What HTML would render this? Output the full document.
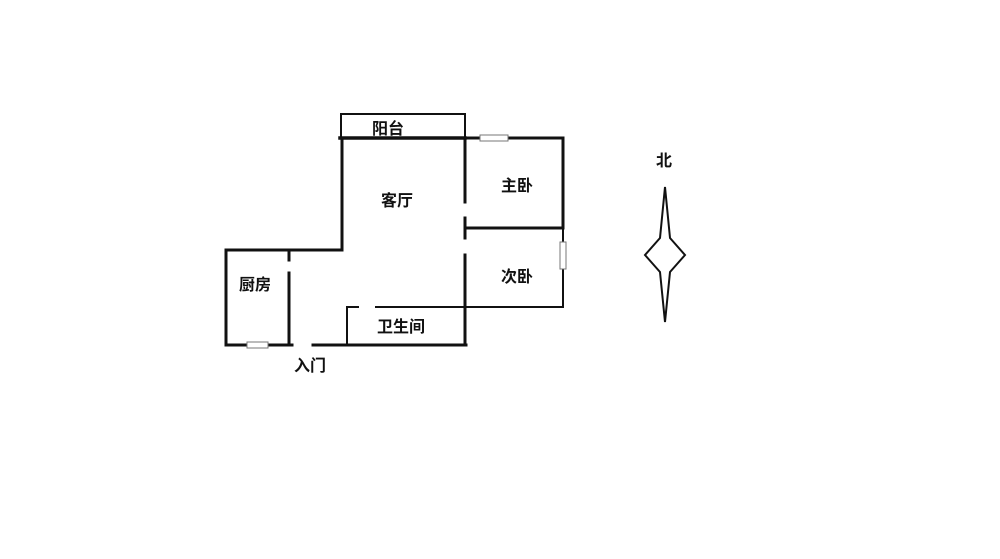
<!DOCTYPE html>
<html><head><meta charset="utf-8"><style>
html,body{margin:0;padding:0;background:#fff;}
svg text{font-family:"Liberation Sans","Noto Sans CJK SC",sans-serif;font-size:16px;font-weight:bold;fill:#111;}
</style></head><body>
<svg width="1000" height="554" viewBox="0 0 1000 554" xmlns="http://www.w3.org/2000/svg">
<g stroke="#111" fill="none" stroke-linecap="square">
<rect x="341" y="114" width="124" height="24" stroke-width="2"/>
<line x1="340" y1="138" x2="465" y2="138" stroke-width="3.5"/>
<line x1="465" y1="138" x2="563" y2="138" stroke-width="3"/>
<line x1="563" y1="138" x2="563" y2="228" stroke-width="3"/>
<line x1="563" y1="228" x2="563" y2="307" stroke-width="2"/>
<line x1="342" y1="138" x2="342" y2="250" stroke-width="3"/>
<line x1="226" y1="250" x2="342" y2="250" stroke-width="3"/>
<line x1="226" y1="250" x2="226" y2="345" stroke-width="3"/>
<line x1="289" y1="250" x2="289" y2="260" stroke-width="3"/>
<line x1="289" y1="273" x2="289" y2="345" stroke-width="3"/>
<line x1="226" y1="345" x2="292" y2="345" stroke-width="3"/>
<line x1="313" y1="345" x2="466" y2="345" stroke-width="3"/>
<line x1="465" y1="138" x2="465" y2="202" stroke-width="3"/>
<line x1="465" y1="218" x2="465" y2="238" stroke-width="3"/>
<line x1="465" y1="255" x2="465" y2="345" stroke-width="3"/>
<line x1="465" y1="228" x2="563" y2="228" stroke-width="3"/>
<line x1="465" y1="307" x2="563" y2="307" stroke-width="2"/>
<line x1="376" y1="307" x2="465" y2="307" stroke-width="2"/>
<line x1="347" y1="307" x2="358" y2="307" stroke-width="2"/>
<line x1="347" y1="307" x2="347" y2="345" stroke-width="2"/>
</g>
<g fill="#fff" stroke="#777" stroke-width="1">
<rect x="480" y="135" width="28" height="6"/>
<rect x="560" y="242" width="6" height="27"/>
<rect x="247" y="342" width="21" height="6"/>
</g>
<polygon points="665,187 670,238 685,255 670,272 665,322 660,272 645,255 660,238" fill="#fff" stroke="#111" stroke-width="2"/>
<text x="372" y="134">阳台</text>
<text x="381" y="206">客厅</text>
<text x="501" y="191">主卧</text>
<text x="501" y="282">次卧</text>
<text x="239" y="290">厨房</text>
<text x="377" y="332">卫生间</text>
<text x="294" y="371">入门</text>
<text x="656" y="166">北</text>
</svg>
</body></html>
